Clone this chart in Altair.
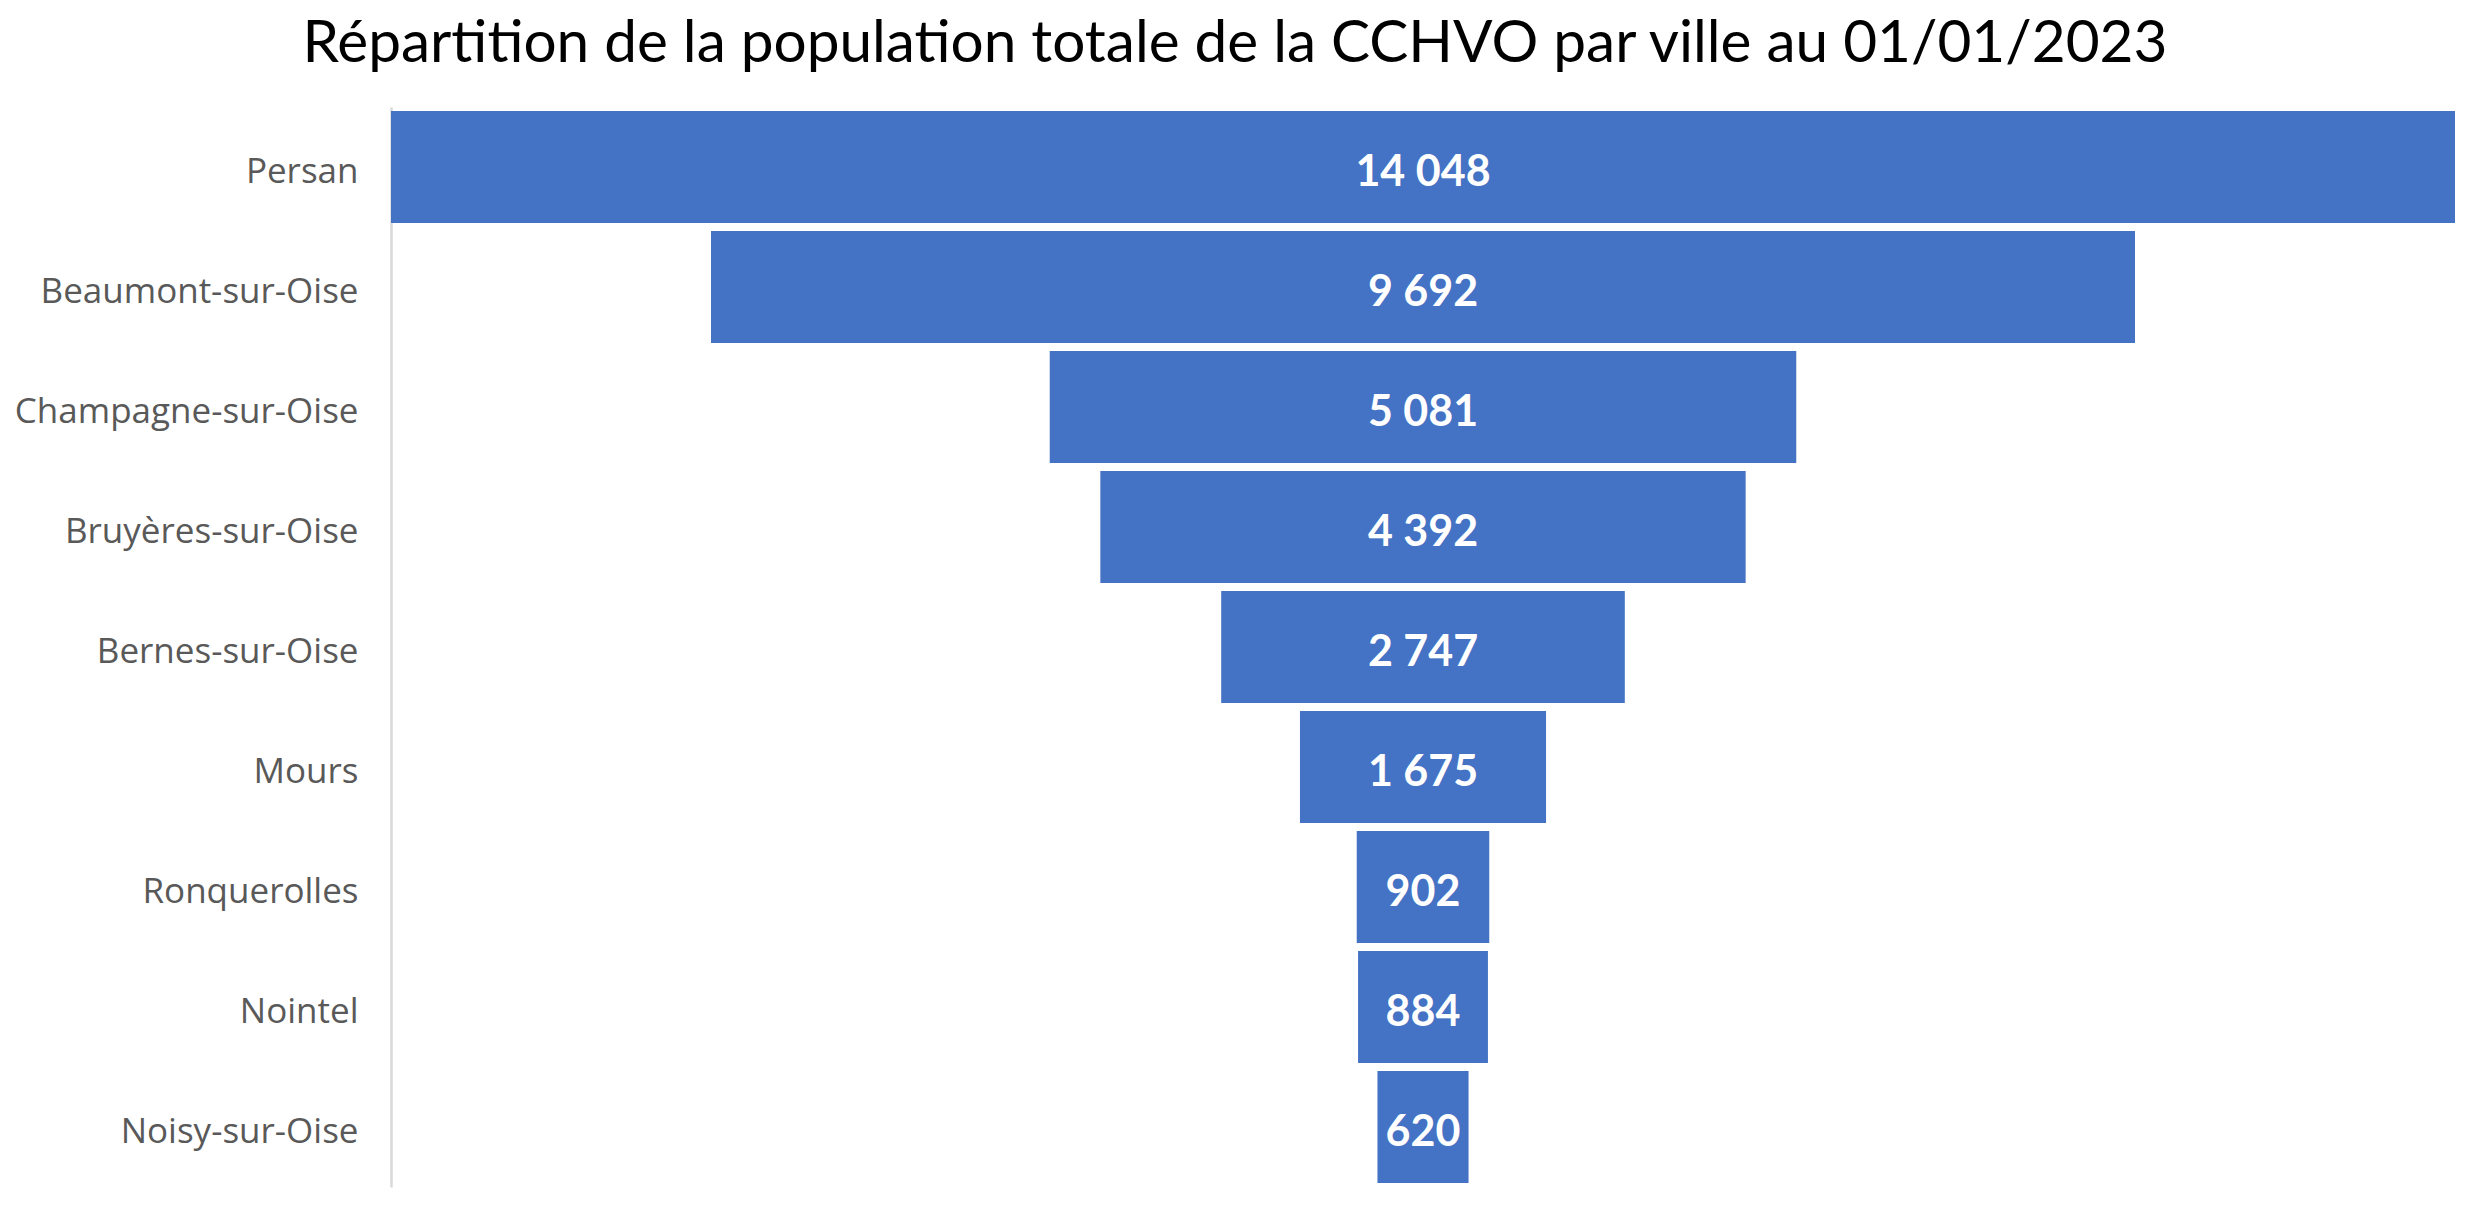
import altair as alt
import pandas as pd

villes = [
    "Persan",
    "Beaumont-sur-Oise",
    "Champagne-sur-Oise",
    "Bruyères-sur-Oise",
    "Bernes-sur-Oise",
    "Mours",
    "Ronquerolles",
    "Nointel",
    "Noisy-sur-Oise",
]
population = [14048, 9692, 5081, 4392, 2747, 1675, 902, 884, 620]

df = pd.DataFrame({"ville": villes, "population": population})
df["label"] = [f"{v:,}".replace(",", " ") for v in population]

half = max(population) / 2

base = alt.Chart(df).transform_calculate(
    x1="-datum.population / 2", x2="datum.population / 2", xc="0"
)

yenc = alt.Y(
    "ville:N",
    sort=villes,
    title=None,
    scale=alt.Scale(paddingInner=8 / 120, paddingOuter=4 / 120),
    axis=alt.Axis(
        ticks=False,
        grid=False,
        domain=True,
        domainColor="#D9D9D9",
        domainWidth=2.5,
        labelFont="Open Sans",
        labelFontSize=35,
        labelColor="#595959",
        labelPadding=33,
        labelLimit=0,
        labelOffset=5,
    ),
)

xscale = alt.Scale(domain=[-half, half], nice=False, zero=False)

bars = base.mark_bar(color="#4472C4").encode(
    x=alt.X("x1:Q", scale=xscale, axis=None),
    x2="x2:Q",
    y=yenc,
)

texts = base.mark_text(
    font="Lato", fontWeight="bold", fontSize=43, color="white", baseline="middle", dy=6
).encode(
    x=alt.X("xc:Q", scale=xscale, axis=None),
    y=alt.Y("ville:N", sort=villes),
    text="label:N",
)

chart = (
    alt.layer(bars, texts)
    .properties(
        width=2064,
        height=1080,
        autosize=alt.AutoSizeParams(type="none"),
        padding={"left": 383, "top": 99, "right": 7, "bottom": 12},
        title=alt.TitleParams(
            "Répartition de la population totale de la CCHVO par ville au 01/01/2023",
            font="Lato",
            fontSize=58.5,
            fontWeight="normal",
            color="black",
            anchor="middle",
            frame="group",
            dx=-188,
            dy=52,
            baseline="alphabetic",
            offset=39,
        ),
    )
    .configure_view(stroke=None)
)

chart.save("out.html", embed_options={"renderer": "svg", "actions": False})
